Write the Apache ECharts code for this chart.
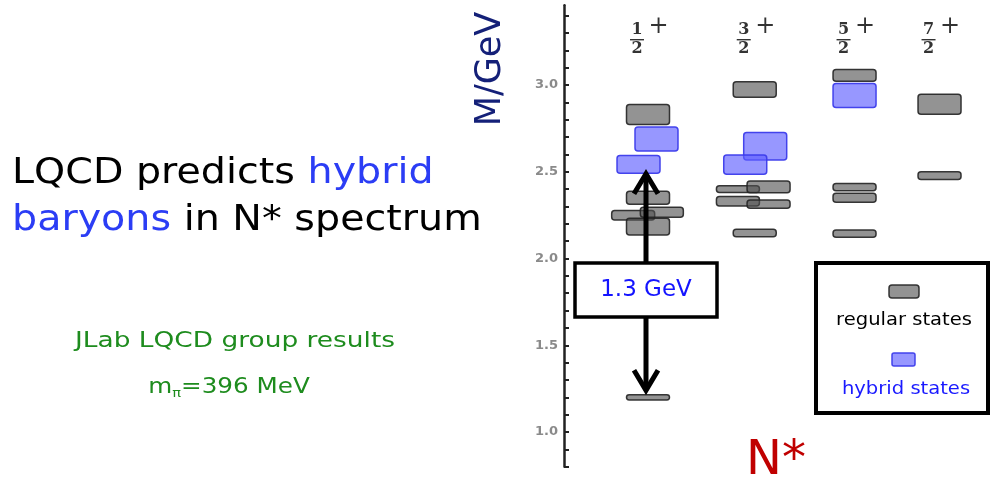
<!DOCTYPE html>
<html>
<head>
<meta charset="utf-8">
<script src="https://cdn.jsdelivr.net/npm/echarts@6/dist/echarts.min.js"></script>
<style>
html,body{margin:0;padding:0;background:#fff}
#chart{width:992px;height:484px}
</style>
</head>
<body>
<div id="chart"></div>
<script>
// J^P columns of the N* spectrum (positive parity)
const jpNum = ['1', '3', '5', '7'];
const jpDen = ['2', '2', '2', '2'];
const jpParity = ['+', '+', '+', '+'];
const jpPos = [1.0, 2.08, 3.09, 3.95];

// Regular states: column, sideways shift, mass (GeV), half-height of the band (GeV)
const regCol   = [0, 0, 0, 0, 0, 0, 1, 1, 1, 1, 1, 1, 2, 2, 2, 2, 3, 3];
const regShift = [0, 0, -0.15, 0.14, 0, 0, 0, -0.17, 0.14, -0.17, 0.14, 0, 0, 0, 0, 0, 0, 0];
const regMass  = [2.83, 2.35, 2.249, 2.267, 2.184, 1.20, 2.974, 2.40, 2.413, 2.33, 2.313, 2.147, 3.056, 2.412, 2.35, 2.143, 2.889, 2.478];
const regErr   = [0.058, 0.037, 0.027, 0.029, 0.048, 0.015, 0.045, 0.02, 0.034, 0.027, 0.024, 0.021, 0.034, 0.021, 0.026, 0.021, 0.058, 0.022];

// Hybrid states
const hybCol   = [0, 0, 1, 1, 2];
const hybShift = [0.086, -0.096, 0.106, -0.096, 0];
const hybMass  = [2.689, 2.542, 2.647, 2.541, 2.94];
const hybErr   = [0.069, 0.051, 0.079, 0.056, 0.069];

// Gap between the nucleon and the lightest hybrid (GeV)
const gapFrom = 1.2;
const gapTo = 2.5;

const FONT = '"DejaVu Sans", "Noto Sans", sans-serif';
const SERIF = '"DejaVu Serif", "Liberation Serif", serif';

const chart = echarts.init(document.getElementById('chart'), null, {renderer: 'canvas'});

function boxRenderer(fill, stroke) {
  return function (params, api) {
    const x = api.value(0), m = api.value(1), e = api.value(2);
    const top = api.coord([x, m + e]);
    const bot = api.coord([x, m - e]);
    const w = 43;
    return {
      type: 'rect',
      shape: {x: top[0] - w / 2, y: top[1], width: w, height: Math.max(bot[1] - top[1], 4), r: 3},
      style: {fill: fill, stroke: stroke, lineWidth: 1.5}
    };
  };
}

const regData = regCol.map((c, i) => [jpPos[c] + regShift[i], regMass[i], regErr[i]]);
const hybData = hybCol.map((c, i) => [jpPos[c] + hybShift[i], hybMass[i], hybErr[i]]);

chart.setOption({
  animation: false,
  grid: {left: 564, right: 8, top: 5.2, bottom: 17.3},
  xAxis: {type: 'value', min: 0.15, max: 4.4, show: false},
  yAxis: {
    type: 'value', min: 0.8, max: 3.46, interval: 0.1,
    axisLine: {show: true, lineStyle: {color: '#222', width: 2.5}},
    axisTick: {show: true, inside: true, length: 5, lineStyle: {color: '#222', width: 2}},
    splitLine: {show: false},
    axisLabel: {
      margin: 6, color: '#8a8a8a', fontSize: 13, fontWeight: 'bold', fontFamily: FONT,
      showMaxLabel: false,
      formatter: v => Math.abs(v * 2 - Math.round(v * 2)) < 1e-6 ? v.toFixed(1) : ''
    }
  },
  series: [
    {
      name: 'regular states', type: 'custom', clip: false,
      renderItem: boxRenderer('rgba(80,80,80,0.62)', 'rgba(35,35,35,0.9)'),
      data: regData, z: 3
    },
    {
      name: 'hybrid states', type: 'custom', clip: false,
      renderItem: boxRenderer('rgba(95,95,255,0.65)', 'rgba(60,60,235,0.95)'),
      data: hybData, z: 4
    },
    {
      // J^P fraction headers
      type: 'custom', clip: false, silent: true, z: 5,
      data: jpPos.map((p, i) => [p, 3.46, i]),
      renderItem: function (params, api) {
        const i = api.value(2);
        const c = api.coord([api.value(0), api.value(1)]);
        const cx = c[0] - 11, t = c[1];
        return {
          type: 'group',
          children: [
            {type: 'text', style: {text: jpNum[i], x: cx, y: t + 25, align: 'center', verticalAlign: 'middle', font: 'bold 16px ' + SERIF, fill: '#333'}},
            {type: 'line', shape: {x1: cx - 7, y1: t + 34.5, x2: cx + 7, y2: t + 34.5}, style: {stroke: '#333', lineWidth: 1.4}},
            {type: 'text', style: {text: jpDen[i], x: cx, y: t + 44, align: 'center', verticalAlign: 'middle', font: 'bold 16px ' + SERIF, fill: '#333'}},
            {type: 'text', style: {text: jpParity[i], x: cx + 21.5, y: t + 21.5, align: 'center', verticalAlign: 'middle', font: '24px ' + SERIF, fill: '#333'}}
          ]
        };
      }
    },
    {
      // Arrow marking the gap up to the first hybrid
      type: 'custom', clip: false, silent: true, z: 6,
      data: [[jpPos[0], gapFrom, gapTo]],
      renderItem: function (params, api) {
        const x = api.value(0);
        const lo = api.coord([x, api.value(1)]);
        const hi = api.coord([x, api.value(2)]);
        const px = lo[0] - 2;
        const yb = lo[1] - 5, yt = hi[1];
        const mid = (yb + yt) / 2 + 8;
        const label = (api.value(2) - api.value(1)).toFixed(1) + ' GeV';
        const st = {stroke: '#000', lineWidth: 5, fill: null, lineJoin: 'miter'};
        return {
          type: 'group',
          children: [
            {type: 'line', shape: {x1: px, y1: yt + 2, x2: px, y2: yb - 2}, style: st},
            {type: 'polyline', shape: {points: [[px - 12, yt + 22], [px, yt + 2], [px + 12, yt + 22]]}, style: st},
            {type: 'polyline', shape: {points: [[px - 12, yb - 22], [px, yb - 2], [px + 12, yb - 22]]}, style: st},
            {type: 'rect', shape: {x: px - 71, y: mid - 27, width: 142, height: 54}, style: {fill: '#fff', stroke: '#000', lineWidth: 3.5}},
            {type: 'text', style: {text: label, x: px, y: mid, align: 'center', verticalAlign: 'middle', font: '23px ' + FONT, fill: '#1414ff'}}
          ]
        };
      }
    }
  ],
  graphic: [
    {
      type: 'text', x: 12, y: 150, scaleX: 1.1,
      style: {
        text: '{k|LQCD predicts }{b|hybrid}\n{b|baryons}{k| in N* spectrum}',
        rich: {
          k: {fill: '#000', fontSize: 36, fontFamily: FONT, lineHeight: 47},
          b: {fill: '#2b3df5', fontSize: 36, fontFamily: FONT, lineHeight: 47}
        }
      }
    },
    {
      type: 'text', x: 235, y: 341, scaleX: 1.2,
      style: {text: 'JLab LQCD group results', align: 'center', verticalAlign: 'middle', font: '22px ' + FONT, fill: '#1e8c1e'}
    },
    {
      type: 'text', x: 229, y: 387, scaleX: 1.12,
      style: {
        text: '{a|m}{s|π}{a|=396 MeV}', align: 'center', verticalAlign: 'middle',
        rich: {
          a: {fill: '#1e8c1e', fontSize: 22, fontFamily: FONT, lineHeight: 26},
          s: {fill: '#1e8c1e', fontSize: 13, fontFamily: FONT, lineHeight: 26, verticalAlign: 'bottom'}
        }
      }
    },
    {
      type: 'text', x: 491, y: 69, rotation: Math.PI / 2,
      style: {text: 'M/GeV', align: 'center', verticalAlign: 'middle', font: '35px ' + FONT, fill: '#142078'}
    },
    {
      type: 'text', x: 776, y: 462,
      style: {text: 'N*', align: 'center', verticalAlign: 'middle', font: '48px ' + FONT, fill: '#c00000'}
    },
    {
      type: 'group', z: 10,
      children: [
        {type: 'rect', shape: {x: 816, y: 263, width: 172, height: 150}, style: {fill: '#fff', stroke: '#000', lineWidth: 4}},
        {type: 'rect', shape: {x: 889, y: 285, width: 30, height: 13, r: 3}, style: {fill: 'rgba(80,80,80,0.62)', stroke: 'rgba(35,35,35,0.9)', lineWidth: 1.5}},
        {type: 'text', x: 904, y: 321, scaleX: 1.15, style: {text: 'regular states', align: 'center', verticalAlign: 'middle', font: '17px ' + FONT, fill: '#000'}},
        {type: 'rect', shape: {x: 892, y: 353, width: 23, height: 13, r: 2}, style: {fill: 'rgba(95,95,255,0.65)', stroke: 'rgba(60,60,235,0.95)', lineWidth: 1.5}},
        {type: 'text', x: 906, y: 390, scaleX: 1.15, style: {text: 'hybrid states', align: 'center', verticalAlign: 'middle', font: '17px ' + FONT, fill: '#1a1aff'}}
      ]
    }
  ]
});
</script>
</body>
</html>
